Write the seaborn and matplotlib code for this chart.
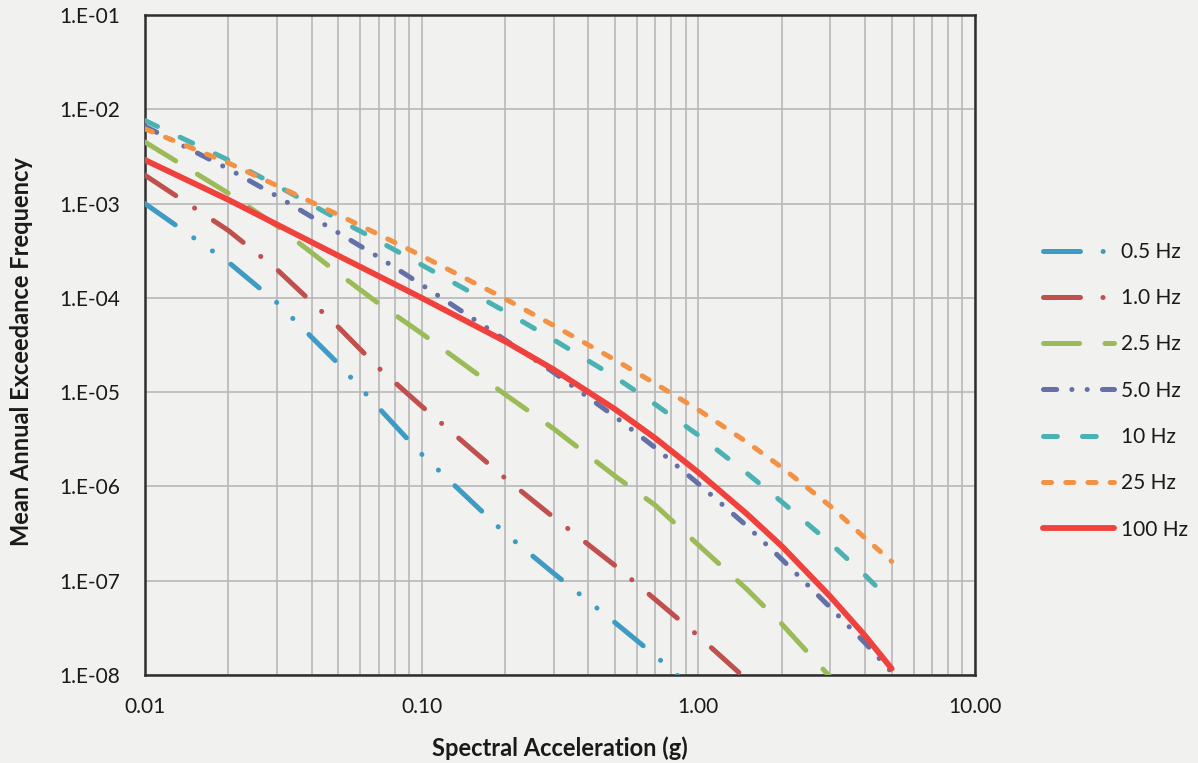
import numpy as np
import pandas as pd
import seaborn as sns
import matplotlib
matplotlib.use("Agg")
import matplotlib.pyplot as plt
from matplotlib.ticker import FixedLocator, FixedFormatter, LogLocator, NullLocator, NullFormatter

# --- Data (spectral acceleration in g vs. annual frequency) ---
accel = [0.01, 0.02, 0.03, 0.05, 0.07, 0.1, 0.2, 0.3, 0.5, 0.7, 1.0, 1.5, 2.0, 3.0, 4.0, 5.0]
nan = np.nan

hz_0_5 = [1.0e-3, 2.4e-4, 8.9e-5, 2.0e-5, 6.8e-6, 2.2e-6, 3.2e-7, 1.2e-7, 3.6e-8, 1.6e-8, 6.3e-9,
          nan, nan, nan, nan, nan]
hz_1_0 = [2.0e-3, 5.2e-4, 2.0e-4, 4.9e-5, 1.8e-5, 7.1e-6, 1.23e-6, 4.7e-7, 1.45e-7, 6.3e-8, 2.6e-8,
          8.9e-9, 4.0e-9, nan, nan, nan]
hz_2_5 = [4.5e-3, 1.29e-3, 5.8e-4, 1.82e-4, 8.7e-5, 4.2e-5, 9.5e-6, 4.1e-6, 1.29e-6, 6.3e-7, 2.4e-7,
          8.1e-8, 3.5e-8, 9.5e-9, nan, nan]
hz_5_0 = [6.6e-3, 2.34e-3, 1.2e-3, 4.9e-4, 2.7e-4, 1.38e-4, 3.6e-5, 1.62e-5, 5.5e-6, 2.57e-6, 1.07e-6,
          3.8e-7, 1.7e-7, 5.2e-8, 2.2e-8, 1.07e-8]
hz_10 = [7.6e-3, 2.9e-3, 1.55e-3, 6.8e-4, 4.0e-4, 2.24e-4, 7.2e-5, 3.6e-5, 1.45e-5, 7.4e-6, 3.5e-6,
         1.38e-6, 6.9e-7, 2.5e-7, 1.15e-7, 6.0e-8]
hz_25 = [6.2e-3, 2.7e-3, 1.55e-3, 7.6e-4, 4.7e-4, 2.8e-4, 9.8e-5, 5.1e-5, 2.2e-5, 1.23e-5, 6.5e-6,
         2.95e-6, 1.6e-6, 6.2e-7, 2.85e-7, 1.6e-7]
hz_100 = [2.9e-3, 1.1e-3, 6.0e-4, 2.8e-4, 1.7e-4, 1.0e-4, 3.47e-5, 1.74e-5, 6.6e-6, 3.24e-6, 1.41e-6,
          5.1e-7, 2.34e-7, 6.8e-8, 2.63e-8, 1.17e-8]

freqs = ["0.5 Hz", "1.0 Hz", "2.5 Hz", "5.0 Hz", "10 Hz", "25 Hz", "100 Hz"]
series = [hz_0_5, hz_1_0, hz_2_5, hz_5_0, hz_10, hz_25, hz_100]

y_ticks = [1e-8, 1e-7, 1e-6, 1e-5, 1e-4, 1e-3, 1e-2, 1e-1]
y_labels = ["1.E-08", "1.E-07", "1.E-06", "1.E-05", "1.E-04", "1.E-03", "1.E-02", "1.E-01"]
x_ticks = [0.01, 0.1, 1.0, 10.0]
x_labels = ["0.01", "0.10", "1.00", "10.00"]

df = pd.DataFrame({
    "accel": np.tile(accel, len(freqs)),
    "freq": np.repeat(freqs, len(accel)),
    "afe": np.concatenate(series),
}).dropna()

# --- Styles ---
palette = {
    "0.5 Hz": "#3E9CC4",
    "1.0 Hz": "#C0504D",
    "2.5 Hz": "#9BBB59",
    "5.0 Hz": "#6470A8",
    "10 Hz": "#4BB2B4",
    "25 Hz": "#F39244",
    "100 Hz": "#F0413C",
}
# on/off lengths in points (not scaled by line width)
dashes = {
    "0.5 Hz": (26.6, 16.3, 0.1, 16.3, 0.1, 16.3),
    "1.0 Hz": (26.6, 16.2, 0.1, 16.2),
    "2.5 Hz": (26.0, 18.3),
    "5.0 Hz": (9.5, 10.9, 0.1, 10.9, 0.1, 10.9),
    "10 Hz": (10.0, 18.0),
    "25 Hz": (5.8, 10.2),
    "100 Hz": "",
}

sns.set_theme(style="white")
plt.rcParams["font.family"] = ["Lato", "DejaVu Sans"]
plt.rcParams["lines.scale_dashes"] = False
plt.rcParams["lines.dash_capstyle"] = "round"
plt.rcParams["lines.solid_capstyle"] = "round"
plt.rcParams["lines.solid_joinstyle"] = "round"

bg = "#F1F1EF"
fig = plt.figure(figsize=(11.98, 7.63), dpi=100, facecolor=bg)
ax = fig.add_axes([0.121, 0.1153, 0.6928, 0.865], facecolor=bg)

sns.lineplot(data=df, x="accel", y="afe", hue="freq", style="freq",
             hue_order=freqs, style_order=freqs, palette=palette, dashes=dashes,
             linewidth=3.6, errorbar=None, sort=True, legend=False, ax=ax, zorder=3)

lines = ax.get_lines()
lines[-1].set_linewidth(4.2)

ax.set_xscale("log")
ax.set_yscale("log")
ax.set_xlim(0.01, 10)
ax.set_ylim(1e-8, 1e-1)

ax.xaxis.set_major_locator(FixedLocator(x_ticks))
ax.xaxis.set_major_formatter(FixedFormatter(x_labels))
ax.xaxis.set_minor_locator(LogLocator(base=10, subs=np.arange(2, 10)))
ax.xaxis.set_minor_formatter(NullFormatter())
ax.yaxis.set_major_locator(FixedLocator(y_ticks))
ax.yaxis.set_major_formatter(FixedFormatter(y_labels))
ax.yaxis.set_minor_locator(NullLocator())

ax.set_axisbelow(True)
ax.grid(True, which="major", color="#B8B8B8", linewidth=1.2)
ax.grid(True, which="minor", axis="x", color="#B8B8B8", linewidth=1.2)

for sp in ax.spines.values():
    sp.set_color("#2E2E2E")
    sp.set_linewidth(1.8)

ax.tick_params(axis="both", which="major", direction="out", length=5, width=1.2,
               color="#666666", labelsize=15, labelcolor="#1A1A1A")
ax.tick_params(axis="y", pad=13)
ax.tick_params(axis="x", pad=11)
ax.tick_params(axis="x", which="minor", length=0)

ax.set_xlabel("Spectral Acceleration (g)", fontsize=17, fontweight="bold", color="#1A1A1A")
ax.set_ylabel("Mean Annual Exceedance Frequency", fontsize=17, fontweight="bold", color="#1A1A1A")
ax.xaxis.set_label_coords(0.5, -0.093)
ax.yaxis.set_label_coords(-0.135, 0.49)

fig.legend(lines, freqs, loc="upper left", bbox_to_anchor=(1043 / 1198, 1 - 242 / 763),
           frameon=False, fontsize=15, handlelength=3.4, handletextpad=0.35,
           labelspacing=1.26, borderpad=0, borderaxespad=0, labelcolor="#1A1A1A")

fig.savefig("out.png", dpi=100, facecolor=bg)
